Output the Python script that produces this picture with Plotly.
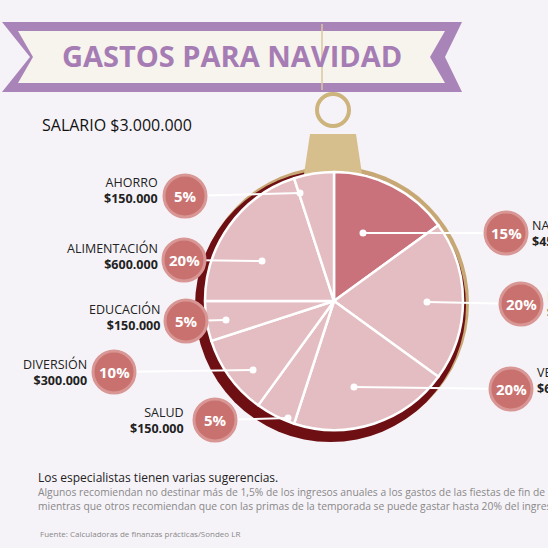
import plotly.graph_objects as go

categories = ["NAVIDAD", "FIESTAS", "VESTUARIO", "SALUD", "DIVERSIÓN", "EDUCACIÓN", "ALIMENTACIÓN", "AHORRO"]
percent = [15, 20, 20, 5, 10, 5, 20, 5]
amounts = ["$450.000", "$600.000", "$600.000", "$150.000", "$300.000", "$150.000", "$600.000", "$150.000"]
colors = ["#c9727b", "#e3bdc1", "#e3bdc1", "#e3bdc1", "#e3bdc1", "#e3bdc1", "#e3bdc1", "#e3bdc1"]

W = 548
def px(x): return x / W
def py(y): return 1 - y / W

fig = go.Figure()
fig.add_trace(go.Pie(values=percent, labels=categories, sort=False, direction="clockwise", rotation=0,
                     marker=dict(colors=colors, line=dict(color="white", width=2.5)),
                     textinfo="none", hoverinfo="label+percent", showlegend=False,
                     domain=dict(x=[px(205), px(463)], y=[py(430), py(172)])))

shapes = []
shapes.append(dict(type="circle", xref="paper", yref="paper", x0=px(197), x1=px(469), y0=py(440), y1=py(166),
                   fillcolor="#c7a874", line=dict(width=0), layer="below"))
shapes.append(dict(type="circle", xref="paper", yref="paper", x0=px(195), x1=px(466), y0=py(442), y1=py(170),
                   fillcolor="#6e0f14", line=dict(width=0), layer="below"))
shapes.append(dict(type="line", xref="paper", yref="paper", x0=px(333), x1=px(333), y0=py(24), y1=py(94),
                   line=dict(color="#d8c8a0", width=2)))
shapes.append(dict(type="circle", xref="paper", yref="paper", x0=px(317), x1=px(349), y0=py(126), y1=py(94),
                   line=dict(color="#cdb47c", width=4)))
shapes.append(dict(type="path", xref="paper", yref="paper",
                   path=f"M {px(310)} {py(134)} L {px(356)} {py(134)} L {px(362)} {py(174)} L {px(304)} {py(174)} Z",
                   fillcolor="#d6bf8c", line=dict(width=0), layer="below"))
shapes.append(dict(type="path", xref="paper", yref="paper",
                   path=f"M {px(2)} {py(22)} L {px(462)} {py(22)} L {px(445)} {py(57)} L {px(462)} {py(92)} L {px(2)} {py(92)} L {px(30)} {py(57)} Z",
                   fillcolor="#a984b8", line=dict(width=0)))
shapes.append(dict(type="path", xref="paper", yref="paper",
                   path=f"M {px(18)} {py(31)} L {px(445)} {py(31)} L {px(430)} {py(57)} L {px(445)} {py(83)} L {px(18)} {py(83)} L {px(33)} {py(57)} Z",
                   fillcolor="#f7f4ee", line=dict(width=0)))
shapes.append(dict(type="line", xref="paper", yref="paper", x0=px(322), x1=px(322), y0=py(24), y1=py(90),
                   line=dict(color="#d8c8a0", width=1.5)))

bubbles = {
    "NAVIDAD": ((506, 233), (363, 233), (530, 233, "left")),
    "FIESTAS": ((521, 304), (427, 302), (545, 304, "left")),
    "VESTUARIO": ((511, 389), (354, 387), (535, 380, "left")),
    "SALUD": ((215, 420), (288, 418), (186, 420, "right")),
    "DIVERSIÓN": ((114, 372), (253, 370), (89, 372, "right")),
    "EDUCACIÓN": ((186, 321), (226, 320), (162, 317, "right")),
    "ALIMENTACIÓN": ((184, 260), (262, 261), (160, 256, "right")),
    "AHORRO": ((185, 196), (300, 193), (160, 191, "right")),
}
ann = []
for cat, p, amt in zip(categories, percent, amounts):
    (bx, by), (dx, dy), (lx, ly, al) = bubbles[cat]
    shapes.append(dict(type="line", xref="paper", yref="paper", x0=px(bx), x1=px(dx), y0=py(by), y1=py(dy),
                       line=dict(color="white", width=2)))
    shapes.append(dict(type="circle", xref="paper", yref="paper", x0=px(dx - 3.5), x1=px(dx + 3.5),
                       y0=py(dy + 3.5), y1=py(dy - 3.5), fillcolor="white", line=dict(width=0)))
    shapes.append(dict(type="circle", xref="paper", yref="paper", x0=px(bx - 21), x1=px(bx + 21),
                       y0=py(by + 21), y1=py(by - 21), fillcolor="#c9716f", line=dict(color="#d89694", width=3)))
    ann.append(dict(x=px(bx), y=py(by), xref="paper", yref="paper", text=f"<b>{p}%</b>", showarrow=False,
                    xanchor="center", yanchor="middle",
                    font=dict(family="Open Sans", size=15, color="white")))
    ann.append(dict(x=px(lx), y=py(ly), xref="paper", yref="paper", text=f"{cat}<br><b>{amt}</b>",
                    showarrow=False, xanchor=al, yanchor="middle", align=al,
                    font=dict(family="Open Sans", size=12.5, color="#222")))

def note(x, y, text, size, color, xa="left"):
    return dict(x=px(x), y=py(y), xref="paper", yref="paper", text=text, showarrow=False,
                xanchor=xa, yanchor="middle", font=dict(family="Open Sans", size=size, color=color))

ann += [
    note(232, 56, "<b>GASTOS PARA NAVIDAD</b>", 29, "#a67cb4", "center"),
    note(40, 125, "SALARIO $3.000.000", 16, "#111"),
    note(36, 477, "Los especialistas tienen varias sugerencias.", 12, "#222"),
    note(36, 492, "Algunos recomiendan no destinar más de 1,5% de los ingresos anuales a los gastos de las fiestas de fin de año,", 10.3, "#888"),
    note(36, 506, "mientras que otros recomiendan que con las primas de la temporada se puede gastar hasta 20% del ingreso mensual.", 10.3, "#888"),
    note(38, 533, "Fuente: Calculadoras de finanzas prácticas/Sondeo LR", 8, "#888"),
]

fig.update_layout(width=548, height=548, margin=dict(l=0, r=0, t=0, b=0),
                  paper_bgcolor="#f6f3f8", plot_bgcolor="#f6f3f8", shapes=shapes, annotations=ann)
fig.write_html("out.html", config={"displayModeBar": False},
               post_script="document.body.style.margin='0';document.body.style.overflow='hidden';")
